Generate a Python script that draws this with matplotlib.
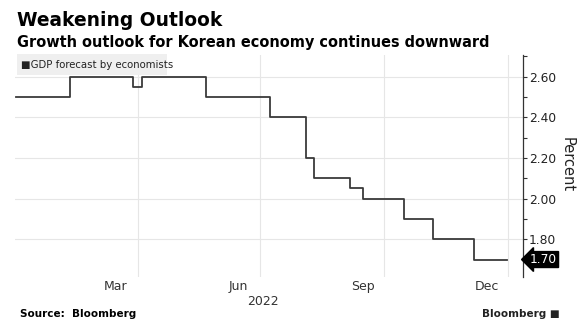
import matplotlib
matplotlib.use("Agg")
import matplotlib.pyplot as plt
import matplotlib.dates as mdates
import numpy as np
import pandas as pd

# Data: change points of the GDP forecast (step series)
dates = ["2022-01-01", "2022-02-10", "2022-03-29", "2022-04-04", "2022-05-22",
         "2022-07-08", "2022-08-04", "2022-08-10", "2022-09-06", "2022-09-15",
         "2022-10-16", "2022-11-06", "2022-12-07", "2022-12-31"]
values = [2.50, 2.60, 2.55, 2.60, 2.50,
          2.40, 2.20, 2.10, 2.05, 2.00,
          1.90, 1.80, 1.70, 1.70]
month_labels = ["Mar", "Jun", "Sep", "Dec"]
month_label_dates = ["2022-03-16", "2022-06-15", "2022-09-15", "2022-12-16"]
grid_dates = ["2022-04-01", "2022-07-01", "2022-10-01", "2023-01-01"]
y_ticks = [1.80, 2.00, 2.20, 2.40, 2.60]
last_value = 1.70

d = pd.to_datetime(dates)
W, H = 584, 335
fig = plt.figure(figsize=(W / 100, H / 100), dpi=100)
plt.rcParams['font.family'] = ['DejaVu Sans']

left, right = 15 / W, 523 / W
bottom, top = 1 - 277 / H, 1 - 55 / H
ax = fig.add_axes([left, bottom, right - left, top - bottom])

ax.plot(d, values, drawstyle="steps-post", color="#3a3a3a", lw=1.3)

x0 = mdates.date2num(pd.Timestamp("2022-01-01")) - 0.9
x1 = mdates.date2num(pd.Timestamp("2023-01-12"))
ax.set_xlim(x0, x1)
ax.set_ylim(1.614, 2.707)

# grid
for g in grid_dates:
    ax.axvline(pd.Timestamp(g), color="#e6e6e6", lw=0.8, zorder=0)
for yv in y_ticks:
    ax.axhline(yv, color="#e6e6e6", lw=0.8, zorder=0)

for s in ["top", "left", "bottom"]:
    ax.spines[s].set_visible(False)
ax.spines["right"].set_color("#333333")
ax.spines["right"].set_linewidth(0.9)

ax.yaxis.tick_right()
ax.set_yticks(y_ticks)
ax.set_yticklabels([f"{v:.2f}" for v in y_ticks], fontsize=8.8, color="#222222")
ax.set_yticks([1.7, 1.9, 2.1, 2.3, 2.5, 2.7], minor=True)
ax.tick_params(axis="y", which="major", length=3, width=0.8, direction="out", pad=1.2, colors="#333333")
ax.tick_params(axis="y", which="minor", length=3, width=0.8, direction="out", colors="#333333")
for t in ax.get_yticklabels():
    t.set_color("#222222")

ax.set_xticks([])
for lbl, ld in zip(month_labels, month_label_dates):
    ax.text(pd.Timestamp(ld), -0.015, lbl, transform=ax.get_xaxis_transform(),
            ha="center", va="top", fontsize=9, color="#333333")
ax.text(pd.Timestamp("2022-07-03"), -0.08, "2022", transform=ax.get_xaxis_transform(),
        ha="center", va="top", fontsize=9, color="#333333")

# Percent label
fig.text(567 / W, 1 - 165 / H, "Percent", rotation=270, ha="center", va="center",
         fontsize=10.5, color="#222222")

# last value tag
ax.annotate(f"{last_value:.2f}", xy=(1.0, last_value), xycoords=("axes fraction", "data"),
            xytext=(5, 0), textcoords="offset points", ha="left", va="center",
            fontsize=8.8, color="white",
            bbox=dict(boxstyle="larrow,pad=0.12", fc="black", ec="black"))

# legend box
fig.patches.append(plt.Rectangle((17 / W, 1 - 75 / H), 150 / W, 21 / H,
                                 transform=fig.transFigure, fc="#efefef", ec="none", zorder=0))
fig.text(21 / W, 1 - 65 / H, "■GDP forecast by economists", ha="left", va="center",
         fontsize=7.3, color="#222222")

# titles
fig.text(17 / W, 1 - 21 / H, "Weakening Outlook", ha="left", va="center",
         fontsize=13.4, fontweight="bold", color="black")
fig.text(17 / W, 1 - 42 / H, "Growth outlook for Korean economy continues downward",
         ha="left", va="center", fontsize=10.45, fontweight="bold", color="black")

fig.text(20 / W, 1 - 314 / H, "Source:  Bloomberg", ha="left", va="center",
         fontsize=7.5, fontweight="bold", color="black")
fig.text(560 / W, 1 - 314 / H, "Bloomberg \u25A0", ha="right", va="center",
         fontsize=7.5, fontweight="bold", color="#222222")

fig.savefig("out.png", dpi=100, facecolor="white")
